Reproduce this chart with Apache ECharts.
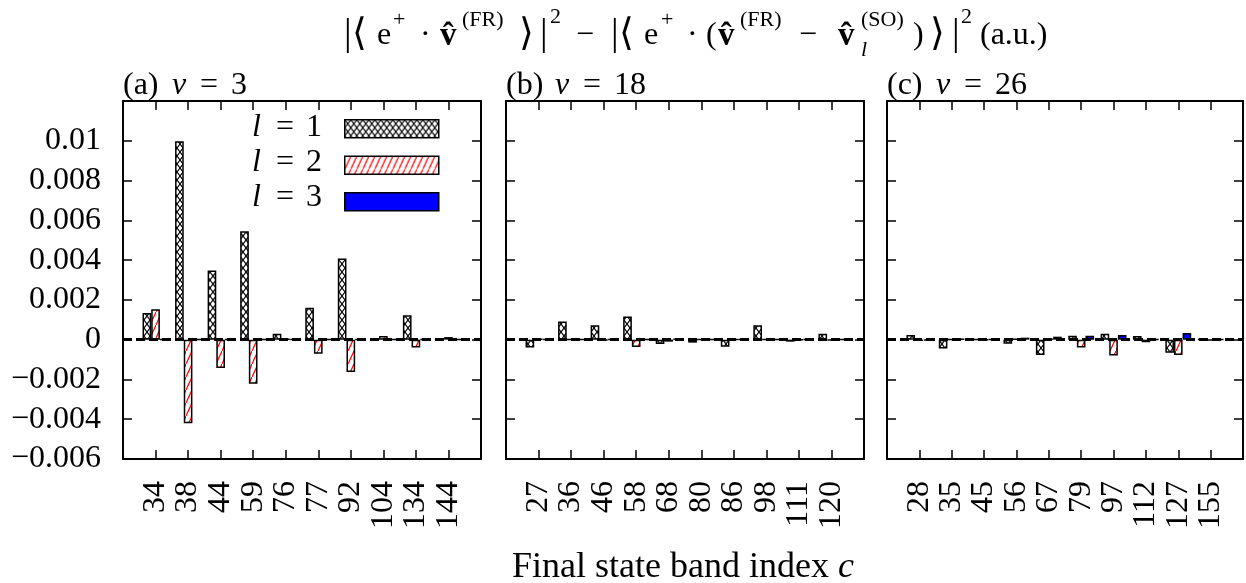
<!DOCTYPE html>
<html><head><meta charset="utf-8">
<script src="https://cdn.jsdelivr.net/npm/echarts@6/dist/echarts.min.js"></script>
<style>html,body{margin:0;padding:0;background:#fff}#c{width:1246px;height:583px}</style>
</head><body><div id="c"></div>
<script>
// ---- data ----
const catsA = ['34','38','44','59','76','77','92','104','134','144'];
const catsB = ['27','36','46','58','68','80','86','98','111','120'];
const catsC = ['28','35','45','56','67','79','97','112','127','155'];
const seriesNames = ['l = 1','l = 2','l = 3'];
const a1 = [0.00134, 0.00997, 0.00348, 0.00545, 0.0003, 0.00161, 0.00408, 0.00002, 0.00123, 0.00004];
const a2 = [0.00153, -0.0042, -0.00143, -0.00222, 0.00003, -0.00071, -0.00163, 0.00018, -0.0004, 0.00013];
const a3 = [0.00001, 0.00001, 0.00001, 0.00001, 0.00001, 0.00001, 0.00001, 0.00001, 0.00001, 0.00001];
const b1 = [-0.0004, 0.00091, 0.00072, 0.00116, -0.00022, -0.00015, -0.00035, 0.00072, -0.0001, 0.0003];
const b2 = [0.00003, 0.00002, -0.00003, -0.00037, -0.0001, 0.00002, 0.00001, 0.00002, -0.00002, -0.00003];
const b3 = [0.00002, 0.00002, 0.00002, 0.00001, 0.00003, 0.00001, 0.00001, 0.00001, 0.00001, 0.00001];
const c1 = [0.00024, -0.00044, 0.00002, -0.0002, -0.00077, 0.0002, 0.0003, 0.00018, -0.00066, 0.00002];
const c2 = [-0.00005, 0.00002, -0.00002, 0.00003, 0.00003, -0.00039, -0.00079, -0.00013, -0.00077, -0.00004];
const c3 = [-0.00003, 0.00003, 0.00001, 0.0001, 0.00015, 0.0002, 0.00024, 0.00002, 0.00034, 0.00001];
const yTicks = {min: -0.006, max: 0.012, interval: 0.002};
const panelLabels = [['(a)', '3'], ['(b)', '18'], ['(c)', '26']];

// ---- patterns ----
function crossPattern() {
  const c = document.createElement('canvas'); c.width = 6; c.height = 8;
  const g = c.getContext('2d');
  g.fillStyle = '#fff'; g.fillRect(0, 0, 6, 8);
  g.strokeStyle = '#000'; g.lineWidth = 1.1;
  g.beginPath(); g.moveTo(0, 0); g.lineTo(6, 8); g.moveTo(6, 0); g.lineTo(0, 8); g.stroke();
  return {image: c, repeat: 'repeat'};
}
function hatchPattern() {
  const c = document.createElement('canvas'); c.width = 6; c.height = 13;
  const g = c.getContext('2d');
  g.fillStyle = '#fff'; g.fillRect(0, 0, 6, 13);
  g.strokeStyle = '#ff0000'; g.lineWidth = 1.2;
  g.beginPath(); g.moveTo(0, 13); g.lineTo(6, 0); g.stroke();
  return {image: c, repeat: 'repeat'};
}
const fills = [crossPattern(), hatchPattern(), '#0000ff'];

const F = 'Liberation Serif';
const grids = [
  {left: 123, width: 358, top: 101, height: 358},
  {left: 506, width: 358, top: 101, height: 358},
  {left: 887, width: 356, top: 101, height: 358}
];
const cats = [catsA, catsB, catsC];
const vals = [[a1, a2, a3], [b1, b2, b3], [c1, c2, c3]];

const xAxes = [], yAxes = [], series = [];
const lineS = {color: '#000', width: 2};
const xTick = {show: true, inside: true, length: 9, interval: 0, lineStyle: {color: '#000', width: 1.5}};
const yTick = {show: true, inside: true, length: 9, lineStyle: {color: '#000', width: 1.5}};
function fmtY(v) {
  if (v > 0.0105) return '';
  const s = (+v.toFixed(4)).toString();
  return s.replace('-', '\u2212');
}
grids.forEach((g, i) => {
  const data = [''].concat(cats[i], ['']);
  xAxes.push({type: 'category', gridIndex: i, data, boundaryGap: false, position: 'bottom',
    axisLine: {show: true, onZero: false, lineStyle: lineS}, axisTick: xTick, splitLine: {show: false},
    axisLabel: {show: true, interval: 0, rotate: 90, margin: 22, fontFamily: F, fontSize: 32, color: '#000'}});
  xAxes.push({type: 'category', gridIndex: i, data, boundaryGap: false, position: 'top',
    axisLine: {show: true, onZero: false, lineStyle: lineS}, axisTick: xTick, axisLabel: {show: false}, splitLine: {show: false}});
  yAxes.push({type: 'value', gridIndex: i, position: 'left', ...yTicks,
    axisLine: {show: true, onZero: false, lineStyle: lineS}, axisTick: yTick, splitLine: {show: false},
    axisLabel: {show: i === 0, margin: 22, fontFamily: F, fontSize: 32, color: '#000', formatter: fmtY}});
  yAxes.push({type: 'value', gridIndex: i, position: 'right', ...yTicks,
    axisLine: {show: true, onZero: false, lineStyle: lineS}, axisTick: yTick, splitLine: {show: false},
    axisLabel: {show: false}});
  vals[i].forEach((arr, k) => {
    const s = {
      type: 'bar', name: seriesNames[k], xAxisIndex: 2 * i, yAxisIndex: 2 * i,
      data: [null].concat(arr, [null]),
      barGap: '0%', barCategoryGap: '20%',
      itemStyle: {color: fills[k], borderColor: '#000', borderWidth: 1.5},
      emphasis: {disabled: true}, animation: false
    };
    if (k === 2) {
      s.markLine = {silent: true, symbol: ['none', 'none'], label: {show: false}, animation: false,
        lineStyle: {color: '#000', width: 3, type: [9, 4]}, data: [{yAxis: 0}]};
    }
    series.push(s);
  });
});

// ---- text pieces ----
const graphic = [];
function txt(x, y, s, o) {
  graphic.push({type: 'text', x, y, silent: true, z: 100, style: Object.assign({
    text: s, fontFamily: F, fontSize: 32, fill: '#000', align: 'left', verticalAlign: 'middle'}, o || {})});
}
const BIG = {fontSize: 38}, SUP = {fontSize: 22}, BOLD = {fontWeight: 'bold', fontSize: 33}, IT = {fontStyle: 'italic'};
const vhat = 'v\u0302';
const yb = 36, ys = 20, yd = 35, ysub = 50;
// title: |< e+ . v(FR) >|^2 - |< e+ . (v(FR) - v_l(SO)) >|^2 (a.u.)
txt(344, yd, '|', BIG); txt(352, yd, '\u27e8', BIG);
txt(377, yb, 'e'); txt(393, ys, '+', SUP);
txt(420, yb, '\u00b7');
txt(440, yb, vhat, BOLD); txt(462, ys, '(FR)', SUP);
txt(519, yd, '\u27e9', BIG); txt(540, yd, '|', BIG); txt(550, ys - 3, '2', SUP);
txt(576, yb, '\u2212');
txt(611, yd, '|', BIG); txt(619, yd, '\u27e8', BIG);
txt(644, yb, 'e'); txt(661, ys, '+', SUP);
txt(687, yb, '\u00b7');
txt(706, yb, '(');
txt(718, yb, vhat, BOLD); txt(740, ys, '(FR)', SUP);
txt(799, yb, '\u2212');
txt(838, yb, vhat, BOLD); txt(861, ysub, 'l', Object.assign({}, SUP, IT)); txt(861, ys, '(SO)', SUP);
txt(913, yb, ')');
txt(930, yd, '\u27e9', BIG); txt(952, yd, '|', BIG); txt(961, ys - 3, '2', SUP);
txt(980, yb, '(a.u.)');
// panel labels
panelLabels.forEach((p, i) => {
  const L = grids[i].left, y = 86;
  txt(L, y, p[0]); txt(L + 49, y, 'v', IT); txt(L + 86, y, '=', {align: 'center'}); txt(L + 108, y, p[1]);
});
// legend texts
seriesNames.forEach((n, k) => {
  const y = 128 + 35 * k;
  txt(252, y, 'l', IT); txt(285, y, '=', {align: 'center'}); txt(306, y, n.slice(-1));
});
// x axis name
graphic.push({type: 'text', x: 683, y: 568, silent: true, z: 100, style: {
  text: '{n|Final state band index }{i|c}', align: 'center', verticalAlign: 'middle',
  rich: {n: {fontFamily: F, fontSize: 36, fill: '#000'}, i: {fontFamily: F, fontSize: 36, fontStyle: 'italic', fill: '#000'}}}});

const chart = echarts.init(document.getElementById('c'), null, {renderer: 'canvas'});
chart.setOption({
  animation: false,
  backgroundColor: '#fff',
  grid: grids.map(g => ({...g, containLabel: false})),
  xAxis: xAxes, yAxis: yAxes, series, graphic,
  legend: {
    data: seriesNames, orient: 'vertical', align: 'right', right: 1246 - 439.5, top: 119, padding: 0,
    itemWidth: 94, itemHeight: 18, itemGap: 17, icon: 'rect', selectedMode: false,
    itemStyle: {borderColor: '#000', borderWidth: 1.5},
    formatter: () => '',
    textStyle: {fontSize: 1, lineHeight: 1}
  }
});
</script></body></html>
